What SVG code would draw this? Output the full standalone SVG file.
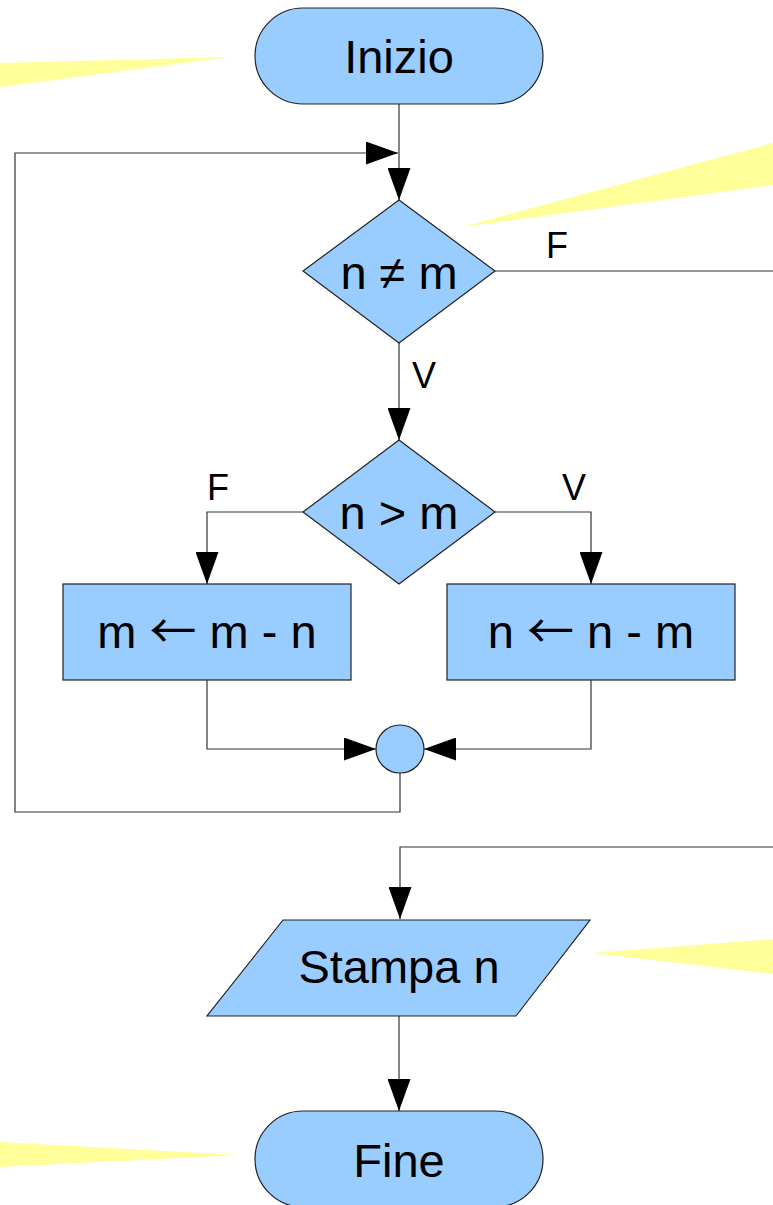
<svg xmlns="http://www.w3.org/2000/svg" width="773" height="1205" viewBox="0 0 773 1205">
  <defs>
    <marker id="arrow" viewBox="0 0 32 23" refX="32" refY="11.5" markerWidth="32" markerHeight="23" markerUnits="userSpaceOnUse" orient="auto">
      <path d="M0,0 L32,11.5 L0,23 Z" fill="#000"/>
    </marker>
    <style>
      .shape { fill: #99ccff; stroke: #222; stroke-width: 1.2; }
      .line { fill: none; stroke: #333; stroke-width: 1.2; }
      .arr { marker-end: url(#arrow); }
      .note { fill: #ffff99; stroke: none; }
      .big { font-family: "Liberation Sans", Arial, sans-serif; font-size: 47px; fill: #000; text-anchor: middle; }
      .lbl { font-family: "Liberation Sans", Arial, sans-serif; font-size: 36px; fill: #000; text-anchor: middle; }
      .sym { font-family: "Noto Sans CJK SC", sans-serif; font-size: 47px; }
    </style>
  </defs>
  <rect width="773" height="1205" fill="#fff"/>

  <!-- callout pointers -->
  <g id="callouts">
    <polygon class="note" points="230,57 0,63 0,87"/>
    <polygon class="note" points="462,227 773,143 773,185"/>
    <polygon class="note" points="592,953 773,939 773,974"/>
    <polygon class="note" points="240,1155 0,1142 0,1167"/>
  </g>

  <!-- connectors -->
  <g id="connectors">
    <path class="line arr" d="M399,104 V200"/>
    <path class="line arr" d="M400,773 V812 H15 V153 H398"/>
    <path class="line" d="M495,271 H773"/>
    <path class="line arr" d="M399,343 V440"/>
    <path class="line arr" d="M303,512 H207 V584"/>
    <path class="line arr" d="M495,512 H591 V584"/>
    <path class="line arr" d="M207,680 V749 H376"/>
    <path class="line arr" d="M591,680 V749 H424"/>
    <path class="line arr" d="M773,847 H400 V919"/>
    <path class="line arr" d="M399,1016 V1111"/>
    <text class="lbl" x="557" y="258">F</text>
    <text class="lbl" x="424" y="388">V</text>
    <text class="lbl" x="218" y="500">F</text>
    <text class="lbl" x="574" y="500">V</text>
  </g>

  <g id="start">
    <rect class="shape" x="255" y="8" width="288" height="96" rx="48" ry="48"/>
    <text class="big" x="399" y="73">Inizio</text>
  </g>

  <g id="cond-ne">
    <polygon class="shape" points="399,200 495,271 399,343 303,271"/>
    <text class="big" x="399" y="289">n ≠ m</text>
  </g>

  <g id="cond-gt">
    <polygon class="shape" points="399,440 495,512 399,584 303,512"/>
    <text class="big" x="399" y="529">n &gt; m</text>
  </g>

  <g id="assign-m">
    <rect class="shape" x="63" y="584" width="288" height="96"/>
    <text class="big" x="207" y="648">m <tspan class="sym">←</tspan> m - n</text>
  </g>

  <g id="assign-n">
    <rect class="shape" x="447" y="584" width="288" height="96"/>
    <text class="big" x="591" y="648">n <tspan class="sym">←</tspan> n - m</text>
  </g>

  <g id="join">
    <circle class="shape" cx="400" cy="749" r="24"/>
  </g>

  <g id="output">
    <polygon class="shape" points="283,920 590,920 516,1016 207,1016"/>
    <text class="big" x="399" y="983">Stampa n</text>
  </g>

  <g id="end">
    <rect class="shape" x="255" y="1111" width="288" height="96" rx="48" ry="48"/>
    <text class="big" x="399" y="1177">Fine</text>
  </g>
</svg>
